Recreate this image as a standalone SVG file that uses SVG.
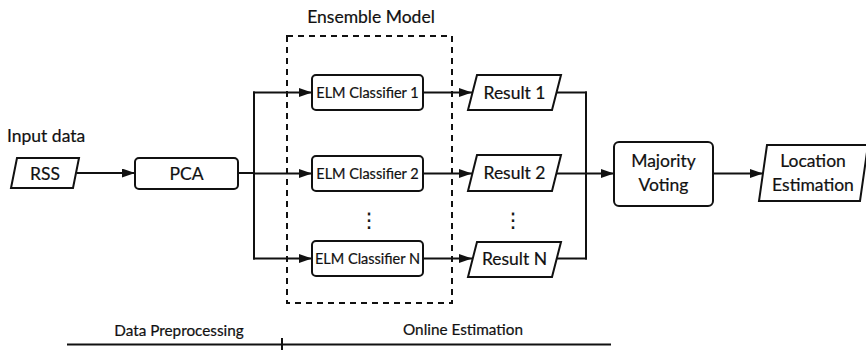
<svg xmlns="http://www.w3.org/2000/svg" width="866" height="350" viewBox="0 0 866 350">
  <defs>
    <marker id="arrow" viewBox="0 0 13 9" refX="13" refY="4.5" markerWidth="13" markerHeight="9" markerUnits="userSpaceOnUse" orient="auto">
      <path d="M0,0 L13,4.5 L0,9 Z" fill="#111"/>
    </marker>
    <style>
      text { font-family: Lato, "Liberation Sans", Arial, sans-serif; fill: #111; stroke: #111; stroke-width: 0.2px; }
      .box { fill: #fff; stroke: #111; stroke-width: 2; }
      .wire { fill: none; stroke: #111; stroke-width: 2; }
      .arr { fill: none; stroke: #111; stroke-width: 2; marker-end: url(#arrow); }
      .mid { text-anchor: middle; }
      .lbl { font-size: 17.5px; }
      .elm { font-size: 14.5px; }
      .res { font-size: 17.5px; }
      .phase { font-size: 15.3px; }
      .dots { font-family: "DejaVu Sans", sans-serif; font-size: 20px; }
    </style>
  </defs>
  <rect width="866" height="350" fill="#fff"/>

  <!-- ensemble boundary -->
  <g id="ensemble">
    <rect x="287" y="36" width="165" height="267" fill="none" stroke="#111" stroke-width="2" stroke-dasharray="6,5"/>
    <text class="lbl mid" x="371" y="23">Ensemble Model</text>
  </g>

  <!-- connectors -->
  <g id="connectors">
    <line class="arr" x1="77" y1="173" x2="135" y2="173"/>
    <line class="wire" x1="238" y1="173" x2="254" y2="173"/>
    <line class="wire" x1="254" y1="91.5" x2="254" y2="259.5"/>
    <line class="arr" x1="253" y1="92.5" x2="312" y2="92.5"/>
    <line class="arr" x1="254" y1="173.5" x2="312" y2="173.5"/>
    <line class="arr" x1="253" y1="258.5" x2="312" y2="258.5"/>
    <line class="arr" x1="423" y1="92.5" x2="472" y2="92.5"/>
    <line class="arr" x1="423" y1="173.5" x2="472" y2="173.5"/>
    <line class="arr" x1="423" y1="258.5" x2="472" y2="258.5"/>
    <line class="wire" x1="557" y1="92.5" x2="587" y2="92.5"/>
    <line class="wire" x1="557" y1="173.5" x2="586" y2="173.5"/>
    <line class="wire" x1="557" y1="258.5" x2="587" y2="258.5"/>
    <line class="wire" x1="586" y1="91.5" x2="586" y2="259.5"/>
    <line class="arr" x1="586" y1="173.5" x2="614" y2="173.5"/>
    <line class="arr" x1="713" y1="173.5" x2="763" y2="173.5"/>
  </g>

  <g id="input">
    <text class="lbl" x="7" y="142">Input data</text>
    <polygon class="box" points="17,158 79,158 73,188 11,188"/>
    <text class="lbl mid" x="45" y="180">RSS</text>
  </g>

  <g id="pca">
    <rect class="box" x="135" y="158" width="103" height="31" rx="4"/>
    <text class="lbl mid" x="186.5" y="180">PCA</text>
  </g>

  <g id="elm1">
    <rect class="box" x="312" y="75" width="111" height="35" rx="4"/>
    <text class="elm mid" x="367.5" y="97.5">ELM Classifier 1</text>
  </g>
  <g id="elm2">
    <rect class="box" x="312" y="156" width="111" height="35" rx="4"/>
    <text class="elm mid" x="367.5" y="178.5">ELM Classifier 2</text>
  </g>
  <g id="elmN">
    <rect class="box" x="312" y="241" width="111" height="35" rx="4"/>
    <text class="elm mid" x="367.5" y="263.5">ELM Classifier N</text>
  </g>
  <text class="dots mid" x="369" y="227">⋮</text>

  <g id="result1">
    <polygon class="box" points="477,75 561,75 552,110 468,110"/>
    <text class="res mid" x="514.5" y="99">Result 1</text>
  </g>
  <g id="result2">
    <polygon class="box" points="477,155 561,155 552,191 468,191"/>
    <text class="res mid" x="514.5" y="179">Result 2</text>
  </g>
  <g id="resultN">
    <polygon class="box" points="477,242 561,242 552,277 468,277"/>
    <text class="res mid" x="514.5" y="265">Result N</text>
  </g>
  <text class="dots mid" x="513" y="227">⋮</text>

  <g id="voting">
    <rect class="box" x="614" y="142" width="99" height="64" rx="5"/>
    <text class="lbl mid" x="663.5" y="167">Majority</text>
    <text class="lbl mid" x="663.5" y="191">Voting</text>
  </g>

  <g id="location">
    <polygon class="box" points="767,145 868,145 860,201 759,201"/>
    <text class="lbl mid" x="813" y="167">Location</text>
    <text class="lbl mid" x="813" y="191">Estimation</text>
  </g>

  <!-- phase axis -->
  <g id="phases">
    <line class="wire" x1="67" y1="344.5" x2="611" y2="344.5"/>
    <line class="wire" x1="282" y1="338" x2="282" y2="350"/>
    <text class="phase mid" x="179" y="336">Data Preprocessing</text>
    <text class="phase mid" x="463" y="335">Online Estimation</text>
  </g>
</svg>
